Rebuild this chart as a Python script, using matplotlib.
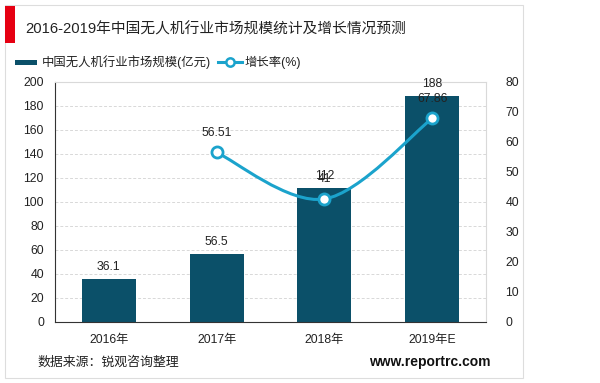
import matplotlib
matplotlib.use('Agg')
import matplotlib.pyplot as plt
from matplotlib.path import Path
from matplotlib.patches import PathPatch, Rectangle

plt.rcParams['font.family'] = ['Liberation Sans', 'Noto Sans CJK SC', 'DejaVu Sans']

years = ['2016年', '2017年', '2018年', '2019年E']
market_size = [36.1, 56.5, 112, 188]
growth_x = [1, 2, 3]
growth = [56.51, 41, 67.86]
growth_labels = ['56.51', '41', '67.86']

bar_color = '#0b5069'
line_color = '#1ba3cc'

fig = plt.figure(figsize=(6, 3.83), dpi=100)

# card frame and red title mark
fig.patches.append(Rectangle((5/600, 1 - 378/383), 518/600, 373/383, transform=fig.transFigure,
                             facecolor='white', edgecolor='#dddddd', lw=0.8, zorder=0))
fig.patches.append(Rectangle((5/600, 1 - 43/383), 10/600, 37/383, transform=fig.transFigure,
                             facecolor='#e60012', edgecolor='none', zorder=1))

ax = fig.add_axes([55/600, 61/383, 431/600, 240/383])
ax.set_zorder(1)
x = list(range(len(years)))
ax.bar(x, market_size, width=0.5, color=bar_color, zorder=2)
for xi, v in zip(x, market_size):
    ax.text(xi, v + 5, f'{v:g}', ha='center', va='bottom', fontsize=8.8, color='#222222', zorder=5)
ax.set_xlim(-0.5, 3.5)
ax.set_ylim(0, 200)
ax.set_yticks(range(0, 201, 20))
ax.set_xticks(x)
ax.set_xticklabels(years)
ax.grid(axis='y', linestyle=(0, (3, 2)), color='#d8d8d8', lw=0.7, zorder=0)
ax.tick_params(axis='both', length=0, labelsize=8.8, colors='#222222')
ax.tick_params(axis='x', pad=9)
ax.tick_params(axis='y', pad=8)
ax.spines['left'].set_color('#333333')
ax.spines['bottom'].set_color('#333333')
ax.spines['top'].set_color('#d9d9d9')
ax.spines['right'].set_color('#d9d9d9')

ax2 = ax.twinx()
ax2.set_ylim(0, 80)
ax2.set_yticks(range(0, 81, 10))
ax2.tick_params(axis='y', length=0, labelsize=8.8, colors='#222222', pad=14)
for s in ax2.spines.values():
    s.set_visible(False)

# smooth curve through the growth points (Catmull-Rom -> Bezier)
pts = list(zip(growth_x, growth))
verts = [pts[0]]
codes = [Path.MOVETO]
for i in range(len(pts) - 1):
    p0 = pts[i - 1] if i > 0 else pts[i]
    p1 = pts[i]
    p2 = pts[i + 1]
    p3 = pts[i + 2] if i + 2 < len(pts) else pts[i + 1]
    c1 = (p1[0] + (p2[0] - p0[0]) / 6, p1[1] + (p2[1] - p0[1]) / 6)
    c2 = (p2[0] - (p3[0] - p1[0]) / 6, p2[1] - (p3[1] - p1[1]) / 6)
    verts += [c1, c2, p2]
    codes += [Path.CURVE4] * 3
ax2.add_patch(PathPatch(Path(verts, codes), facecolor='none', edgecolor=line_color, lw=2.2, zorder=3))
ax2.plot(growth_x, growth, linestyle='none', marker='o', markersize=8, markerfacecolor='white',
         markeredgecolor=line_color, markeredgewidth=2, zorder=4)
for xi, v, lab in zip(growth_x, growth, growth_labels):
    ax2.text(xi, v + 4.5, lab, ha='center', va='bottom', fontsize=8.8, color='#222222', zorder=5)

# title and legend
fig.text(25/600, 1 - 29/383, '2016-2019年中国无人机行业市场规模统计及增长情况预测', fontsize=10.6,
         va='center', ha='left', color='#222222')
fig.patches.append(Rectangle((15/600, 1 - 64.5/383), 22/600, 5/383, transform=fig.transFigure,
                             facecolor=bar_color, edgecolor='none'))
fig.text(42/600, 1 - 62/383, '中国无人机行业市场规模(亿元)', fontsize=8.9, va='center', ha='left', color='#222222')
fig.add_artist(plt.Line2D([218/600, 242/600], [1 - 62/383, 1 - 62/383], color=line_color, lw=2.2,
                          transform=fig.transFigure))
fig.add_artist(plt.Line2D([230/600], [1 - 62/383], marker='o', markersize=6, markerfacecolor='white',
                          markeredgecolor=line_color, markeredgewidth=1.8, transform=fig.transFigure))
fig.text(244/600, 1 - 62/383, '增长率(%)', fontsize=8.9, va='center', ha='left', color='#222222')

# footer
fig.text(37/600, 1 - 362/383, '数据来源：锐观咨询整理', fontsize=9.3, va='center', ha='left', color='#222222')
fig.text(491/600, 1 - 362/383, 'www.reportrc.com', fontsize=10, fontweight='bold', va='center',
         ha='right', color='#111111')

fig.savefig('out.png', dpi=100)
